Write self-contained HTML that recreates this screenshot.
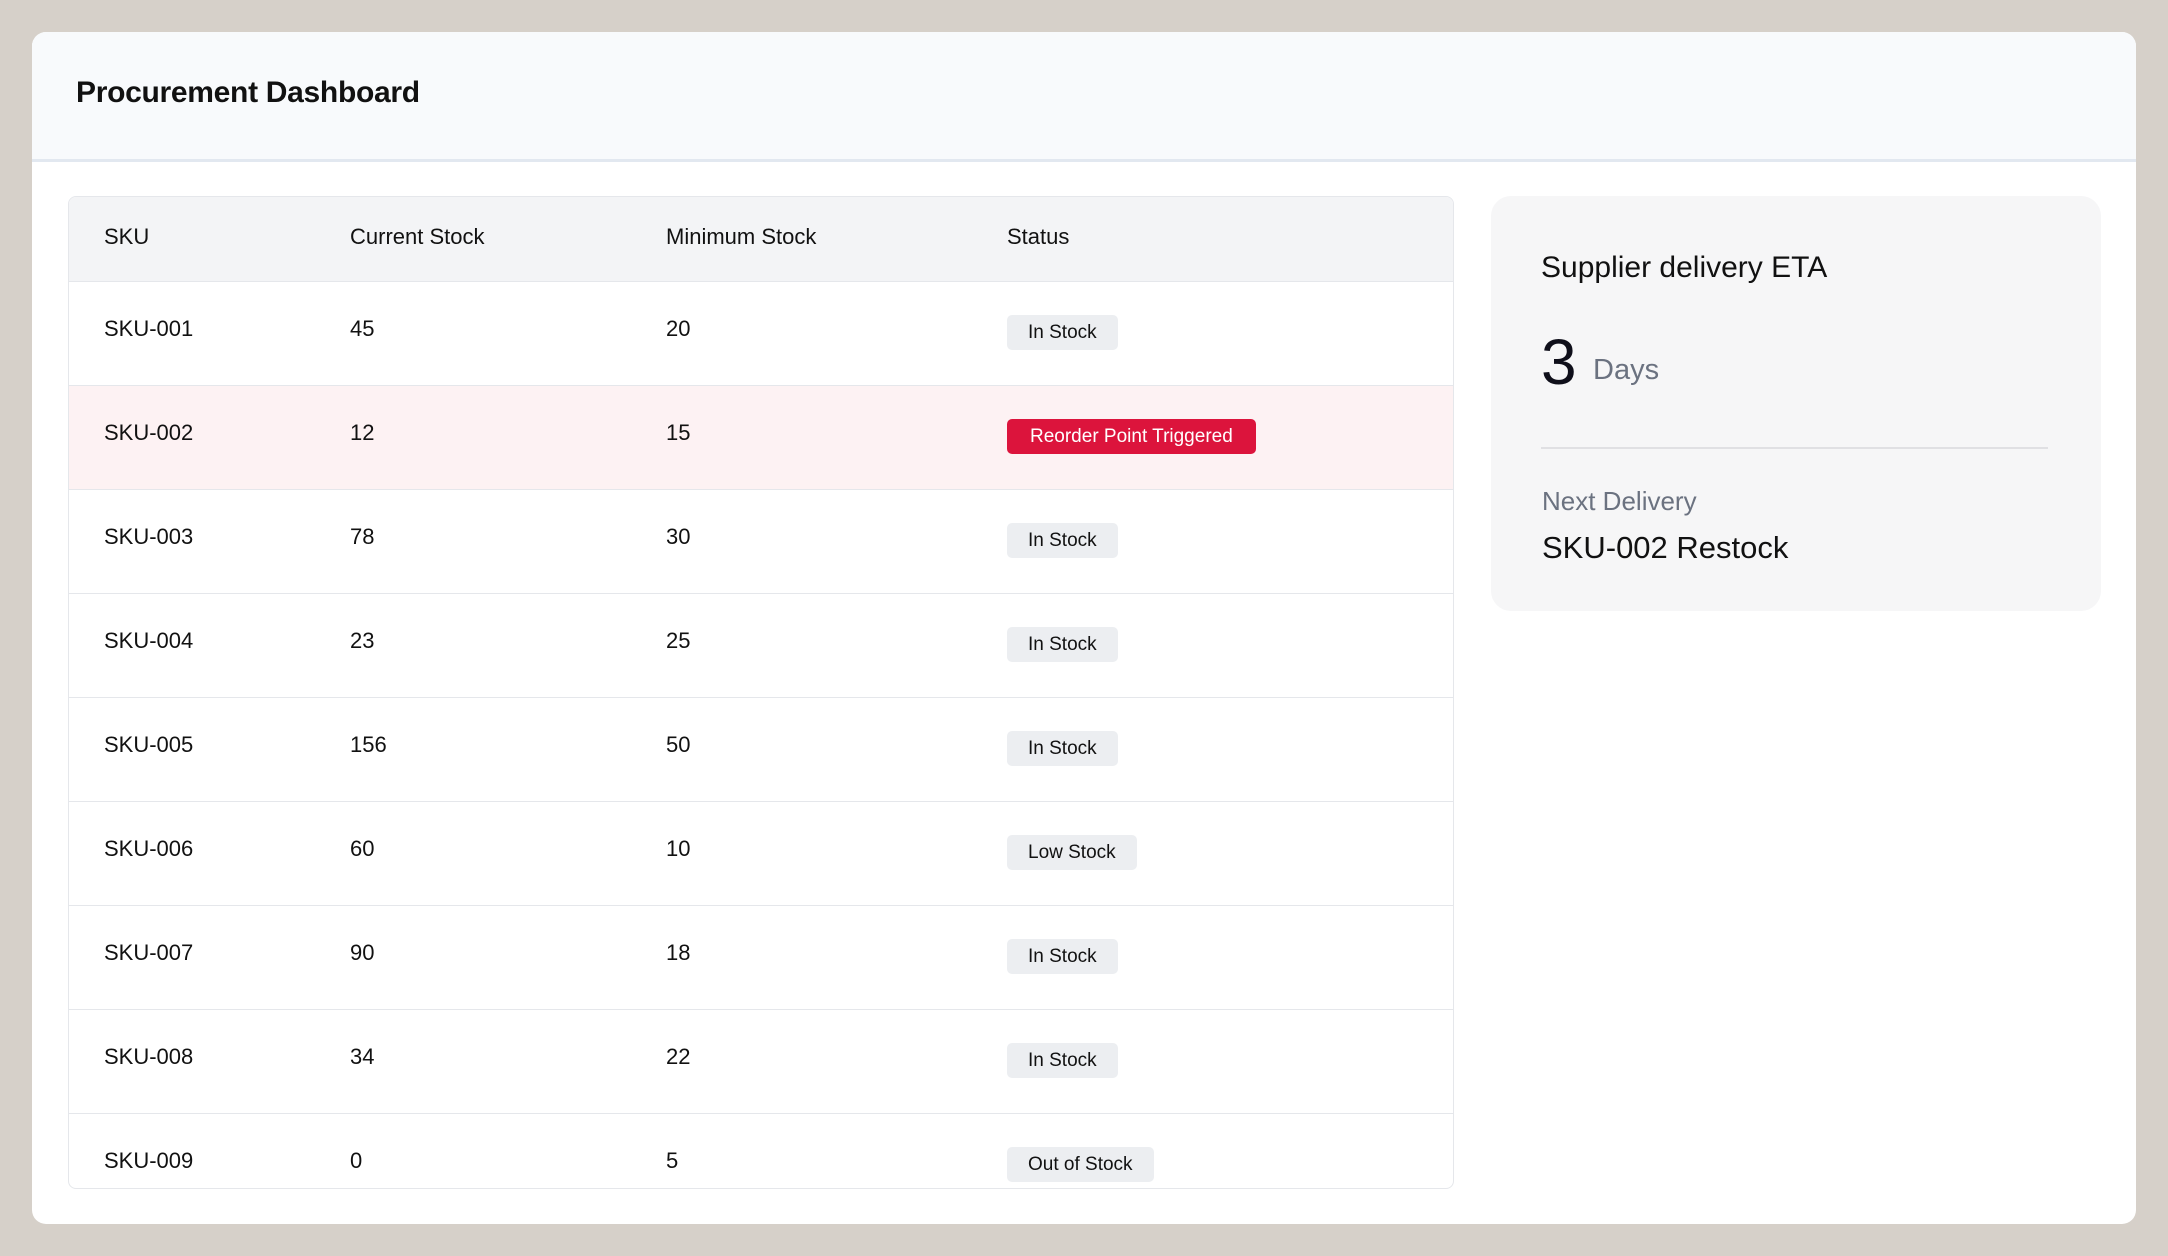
<!DOCTYPE html>
<html><head><meta charset="utf-8"><style>
*{box-sizing:border-box;margin:0;padding:0}
body{width:2168px;height:1256px;background:#d6d0c9;font-family:"Liberation Sans",sans-serif;color:#111;position:relative;overflow:hidden}
.card{position:absolute;left:32px;top:32px;width:2104px;height:1192px;background:#fff;border-radius:14px;overflow:hidden}
.hdr{position:absolute;left:0;top:0;width:100%;height:130px;background:#f8fafc;border-bottom:3px solid #e2e8f0}
.hdr h1{position:absolute;left:44px;top:44px;font-size:30px;font-weight:bold;letter-spacing:-0.3px}
.tbl{position:absolute;left:36px;top:164px;width:1386px;height:993px;border:1.5px solid #e5e7eb;border-radius:8px;overflow:hidden}
.row{position:absolute;left:0;width:100%;height:104px;border-bottom:1.5px solid #e5e7eb}
.row.h{height:85px;background:#f3f4f6;top:0}
.row span{position:absolute;font-size:22px;top:34px}
.row.h span{top:27px}
.b{position:absolute;top:33px;height:35px;line-height:35px;padding:0 21px;background:#eceef1;border-radius:5px;font-size:19px;color:#111}
.b.r{background:#dc143c;color:#fff;padding:0 23px}
.c1{left:35px}.c2{left:281px}.c3{left:597px}.c4{left:938px}
.side{position:absolute;left:1459px;top:164px;width:610px;height:415px;background:#f6f6f7;border-radius:20px}
.side .t{position:absolute;left:50px;top:55px;font-size:30px}
.side .n{position:absolute;left:50px;top:129px;font-size:64px;color:#0f0f1a}
.side .d{position:absolute;left:102px;top:158px;font-size:29px;color:#6b7280}
.side .line{position:absolute;left:50px;top:251px;width:507px;height:2px;background:#e0e0e3}
.side .l{position:absolute;left:51px;top:290px;font-size:26px;color:#6b7280}
.side .v{position:absolute;left:51px;top:334px;font-size:31px}
</style></head><body>
<div class="card">
<div class="hdr"><h1>Procurement Dashboard</h1></div>
<div class="tbl">
<div class="row h"><span class="c1">SKU</span><span class="c2">Current Stock</span><span class="c3">Minimum Stock</span><span class="c4">Status</span></div>
<div class="row" style="top:85px"><span class="c1">SKU-001</span><span class="c2">45</span><span class="c3">20</span><div class="b c4">In Stock</div></div>
<div class="row" style="top:189px;background:#fdf2f3"><span class="c1">SKU-002</span><span class="c2">12</span><span class="c3">15</span><div class="b r c4">Reorder Point Triggered</div></div>
<div class="row" style="top:293px"><span class="c1">SKU-003</span><span class="c2">78</span><span class="c3">30</span><div class="b c4">In Stock</div></div>
<div class="row" style="top:397px"><span class="c1">SKU-004</span><span class="c2">23</span><span class="c3">25</span><div class="b c4">In Stock</div></div>
<div class="row" style="top:501px"><span class="c1">SKU-005</span><span class="c2">156</span><span class="c3">50</span><div class="b c4">In Stock</div></div>
<div class="row" style="top:605px"><span class="c1">SKU-006</span><span class="c2">60</span><span class="c3">10</span><div class="b c4">Low Stock</div></div>
<div class="row" style="top:709px"><span class="c1">SKU-007</span><span class="c2">90</span><span class="c3">18</span><div class="b c4">In Stock</div></div>
<div class="row" style="top:813px"><span class="c1">SKU-008</span><span class="c2">34</span><span class="c3">22</span><div class="b c4">In Stock</div></div>
<div class="row" style="top:917px;border-bottom:none"><span class="c1">SKU-009</span><span class="c2">0</span><span class="c3">5</span><div class="b c4">Out of Stock</div></div>
</div>
<div class="side">
<div class="t">Supplier delivery ETA</div>
<div class="n">3</div><div class="d">Days</div>
<div class="line"></div>
<div class="l">Next Delivery</div>
<div class="v">SKU-002 Restock</div>
</div>
</div>
</body></html>
